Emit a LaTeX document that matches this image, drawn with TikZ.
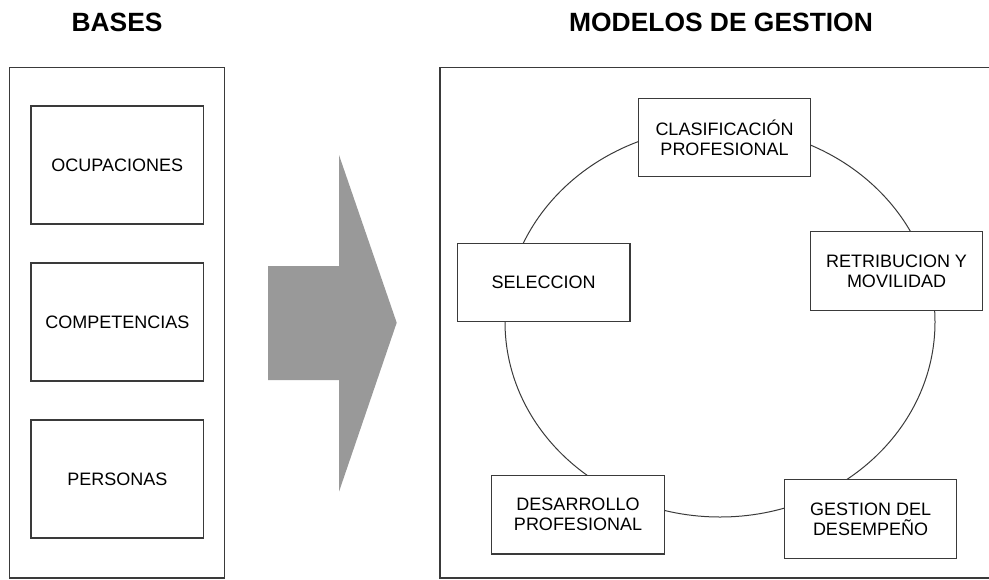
\documentclass[tikz,border=0pt]{standalone}
\usepackage{fontspec}
\setmainfont{Liberation Sans}
\usepackage{xcolor}
\definecolor{edge}{HTML}{3A3A3A}
\definecolor{shaft}{HTML}{999999}
\tikzset{
  panel/.style={draw=edge,line width=0.6pt},
  basebox/.style={draw=edge,line width=0.6pt,fill=white,minimum width=86.3pt,minimum height=59pt,
    inner sep=1pt,font=\fontsize{9}{10}\selectfont,align=center},
  gestbox/.style={draw=edge,line width=0.6pt,fill=white,minimum width=86.3pt,minimum height=39.3pt,
    inner sep=1pt,font=\fontsize{9}{10}\selectfont,align=center},
  headline/.style={font=\fontsize{13.2}{15}\selectfont\bfseries}
}
\begin{document}
\begin{tikzpicture}[x=0.5pt,y=-0.5pt]
  \useasboundingbox (0,0) rectangle (989,579);
  \node[headline] (bases) at (117,22) {BASES};
  \node[headline] (modelos) at (721,22) {MODELOS DE GESTION};
  \draw[panel] (9.5,67.5) rectangle (224.5,578);
  \draw[panel] (995,67.5) -- (440,67.5) -- (440,578) -- (995,578);
  \foreach \name/\txt/\py in {ocup/OCUPACIONES/165,comp/COMPETENCIAS/322,pers/PERSONAS/479}
    \node[basebox] (\name) at (117.3,\py) {\txt};
  \fill[shaft] (268,266) -- (339,266) -- (339,155) -- (396.7,322.7) -- (339,491.7)
    -- (339,380) -- (268,380) -- cycle;
  \coordinate (ring) at (720,322);
  \draw[edge,line width=0.5pt] (ring) ellipse [x radius=107.5pt,y radius=97.5pt];
  \node[gestbox] (clasif) at (724.5,137.5) {CLASIFICACIÓN\\PROFESIONAL};
  \node[gestbox] (retrib) at (896.5,271) {RETRIBUCION Y\\MOVILIDAD};
  \node[gestbox] (selec) at (543.7,282.5) {SELECCION};
  \node[gestbox] (desarr) at (578,514.7) {DESARROLLO\\PROFESIONAL};
  \node[gestbox] (gestion) at (870.5,519) {GESTION DEL\\DESEMPEÑO};
\end{tikzpicture}
\end{document}
